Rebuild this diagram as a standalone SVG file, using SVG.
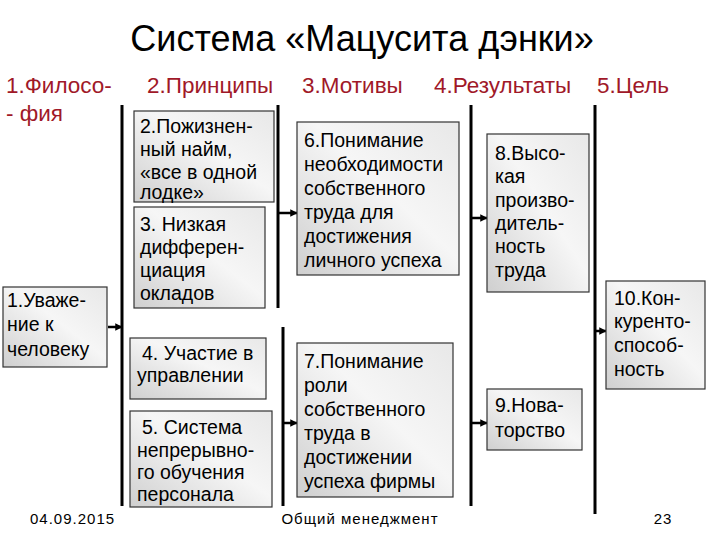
<svg xmlns="http://www.w3.org/2000/svg" width="720" height="540" viewBox="0 0 720 540">
<defs>
<linearGradient id="g" x1="0" y1="1" x2="1" y2="0"><stop offset="0" stop-color="#cfcfcf"/><stop offset="0.55" stop-color="#f6f6f6"/><stop offset="1" stop-color="#e8e8e8"/></linearGradient>
<marker id="a" viewBox="0 0 10 10" refX="9" refY="5" markerWidth="3" markerHeight="3" orient="auto"><path d="M0,0 L10,5 L0,10 z" fill="#000"/></marker>
</defs>
<style>
text{font-family:"Liberation Sans",Arial,sans-serif}
.b{fill:url(#g);stroke:#333;stroke-width:1.2}
.t{font-size:19.5px;fill:#000}
.h{font-size:22.5px;fill:#a01828}
.bar{stroke:#000;stroke-width:3}
.ar{stroke:#000;stroke-width:2.5;marker-end:url(#a)}
.f{font-size:15px;fill:#000;letter-spacing:1px}
</style>
<rect width="720" height="540" fill="#fff"/>
<text x="362" y="51" font-size="36" text-anchor="middle">Система «Мацусита дэнки»</text>
<g id="headers">
<text class="h" x="6" y="93">1.Филосо-</text>
<text class="h" x="6" y="121">- фия</text>
<text class="h" x="147" y="93">2.Принципы</text>
<text class="h" x="302" y="93">3.Мотивы</text>
<text class="h" x="434" y="93">4.Результаты</text>
<text class="h" x="597" y="93">5.Цель</text>
</g>
<g id="connectors">
<line class="bar" x1="122" y1="105" x2="122" y2="506"/>
<line class="bar" x1="278" y1="105" x2="278" y2="308"/>
<line class="bar" x1="283" y1="327" x2="283" y2="506"/>
<line class="bar" x1="471" y1="105" x2="471" y2="506"/>
<line class="bar" x1="595" y1="105" x2="595" y2="514"/>
<line class="ar" x1="108" y1="327" x2="122" y2="327"/>
<line class="ar" x1="279" y1="213" x2="297" y2="213"/>
<line class="ar" x1="284" y1="423" x2="297" y2="423"/>
<line class="ar" x1="472" y1="218" x2="487" y2="218"/>
<line class="ar" x1="472" y1="423" x2="487" y2="423"/>
<line class="ar" x1="596" y1="331" x2="606" y2="331"/>
</g>
<g id="n1"><rect class="b" x="3" y="287" width="104" height="80"/><text class="t" x="7" y="307">1.Уваже-</text><text class="t" x="7" y="331">ние к</text><text class="t" x="7" y="356">человеку</text></g>
<g id="n2"><rect class="b" x="134" y="111" width="140" height="91"/><text class="t" x="140" y="133">2.Пожизнен-</text><text class="t" x="140" y="156">ный найм,</text><text class="t" x="140" y="179">«все в одной</text><text class="t" x="140" y="199">лодке»</text></g>
<g id="n3"><rect class="b" x="134" y="207" width="131" height="101"/><text class="t" x="140" y="231">3. Низкая</text><text class="t" x="140" y="254">дифферен-</text><text class="t" x="140" y="277">циация</text><text class="t" x="140" y="300">окладов</text></g>
<g id="n4"><rect class="b" x="130" y="338" width="136" height="61"/><text class="t" x="142" y="360">4. Участие в</text><text class="t" x="137" y="382">управлении</text></g>
<g id="n5"><rect class="b" x="130" y="411" width="142" height="96"/><text class="t" x="142" y="434">5. Система</text><text class="t" x="137" y="457">непрерывно-</text><text class="t" x="137" y="479">го обучения</text><text class="t" x="137" y="501">персонала</text></g>
<g id="n6"><rect class="b" x="297" y="122" width="162" height="153"/><text class="t" x="304" y="147">6.Понимание</text><text class="t" x="304" y="171">необходимости</text><text class="t" x="304" y="195">собственного</text><text class="t" x="304" y="219">труда для</text><text class="t" x="304" y="243">достижения</text><text class="t" x="304" y="267">личного успеха</text></g>
<g id="n7"><rect class="b" x="297" y="343" width="156" height="154"/><text class="t" x="304" y="368">7.Понимание</text><text class="t" x="304" y="392">роли</text><text class="t" x="304" y="416">собственного</text><text class="t" x="304" y="440">труда в</text><text class="t" x="304" y="464">достижении</text><text class="t" x="304" y="488">успеха фирмы</text></g>
<g id="n8"><rect class="b" x="487" y="134" width="102" height="158"/><text class="t" x="495" y="160">8.Высо-</text><text class="t" x="495" y="183">кая</text><text class="t" x="495" y="207">произво-</text><text class="t" x="495" y="230">дитель-</text><text class="t" x="495" y="253">ность</text><text class="t" x="495" y="277">труда</text></g>
<g id="n9"><rect class="b" x="487" y="389" width="95" height="61"/><text class="t" x="495" y="412">9.Нова-</text><text class="t" x="495" y="437">торство</text></g>
<g id="n10"><rect class="b" x="606" y="281" width="99" height="108"/><text class="t" x="614" y="305">10.Кон-</text><text class="t" x="614" y="328">куренто-</text><text class="t" x="614" y="352">способ-</text><text class="t" x="614" y="376">ность</text></g>
<text class="f" x="30" y="524">04.09.2015</text>
<text class="f" x="360" y="524" text-anchor="middle">Общий менеджмент</text>
<text class="f" x="663" y="524" text-anchor="middle">23</text>
</svg>
